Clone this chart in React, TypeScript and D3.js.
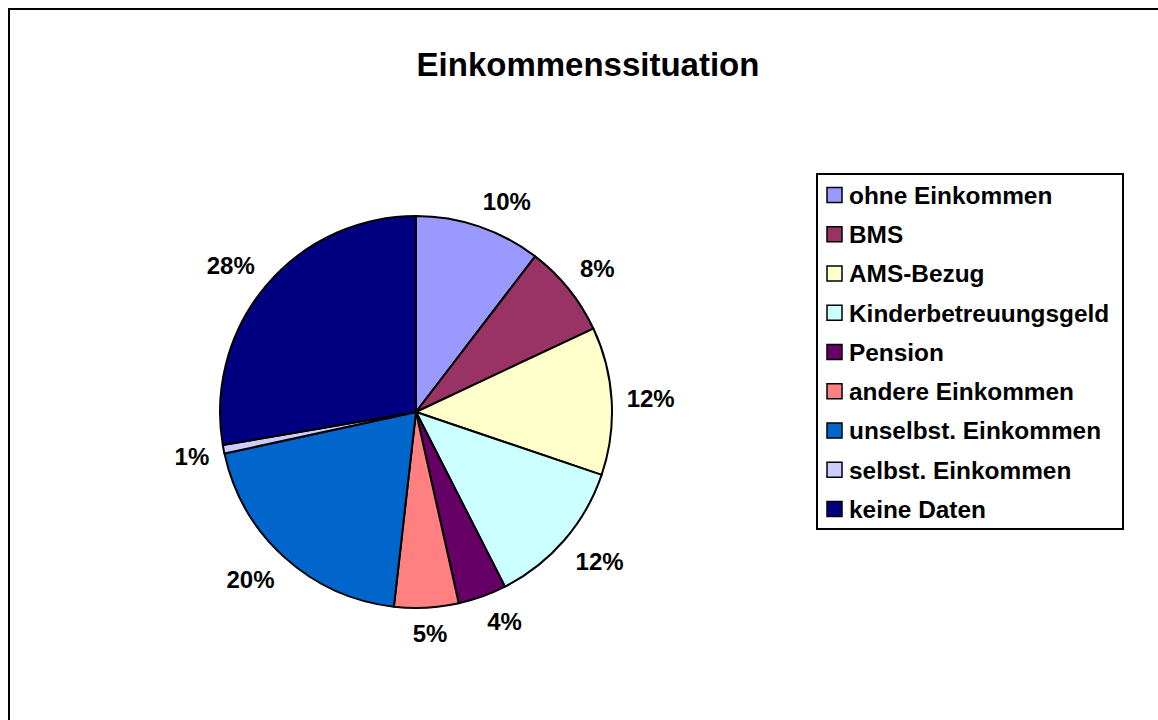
import React from "react";
import * as d3 from "d3";

const categories = [
  "ohne Einkommen",
  "BMS",
  "AMS-Bezug",
  "Kinderbetreuungsgeld",
  "Pension",
  "andere Einkommen",
  "unselbst. Einkommen",
  "selbst. Einkommen",
  "keine Daten",
];
const values = [10.4, 7.6, 12.2, 12.3, 4.0, 5.3, 19.8, 0.7, 27.7];
const colors = [
  "#9999FF",
  "#993366",
  "#FFFFCC",
  "#CCFFFF",
  "#660066",
  "#FF8080",
  "#0066CC",
  "#CCCCFF",
  "#000080",
];
const title = "Einkommenssituation";

const W = 1158;
const H = 720;
const FONT = "'Liberation Sans', Arial, sans-serif";

const clamp = (v: number) => Math.max(-1, Math.min(1, v));

export default function App() {
  const cx = 416;
  const cy = 412;
  const R = 196;
  const total = d3.sum(values);
  const pie = d3
    .pie<number>()
    .sort(null)
    .value((d) => d)
    .startAngle(0)
    .endAngle(2 * Math.PI);
  const arcs = pie(values);
  const arc = d3.arc<d3.PieArcDatum<number>>().innerRadius(0).outerRadius(R);

  const labelFont = 24;
  const legendX = 817;
  const legendY = 174;
  const legendW = 306;
  const legendH = 355;
  const rowStart = 195;
  const rowStep = 39.25;

  return (
    <svg
      width={W}
      height={H}
      style={{ position: "absolute", left: 0, top: 0, display: "block" }}
    >
      <rect x={0} y={0} width={W} height={H} fill="#fff" />
      <rect
        x={9}
        y={9}
        width={W + 100}
        height={H + 100}
        fill="#fff"
        stroke="#000"
        strokeWidth={2}
      />
      <text
        x={588}
        y={76}
        textAnchor="middle"
        fontFamily={FONT}
        fontWeight="bold"
        fontSize={33}
        fill="#000"
      >
        {title}
      </text>
      <g transform={`translate(${cx},${cy})`}>
        {arcs.map((a, i) => (
          <path
            key={i}
            d={arc(a) || ""}
            fill={colors[i]}
            stroke="#000"
            strokeWidth={2}
            strokeLinejoin="round"
          />
        ))}
        {arcs.map((a, i) => {
          const mid = (a.startAngle + a.endAngle) / 2;
          const txt = `${Math.round((a.data / total) * 100)}%`;
          const hw = (txt.length === 3 ? 48 : 34) / 2;
          const hh = 11;
          const s = Math.sin(mid);
          const c = -Math.cos(mid);
          const d = R + 15;
          const x = s * d + clamp(s * 3) * hw;
          const y = c * d + clamp(c * 2) * hh;
          return (
            <text
              key={i}
              x={x}
              y={y}
              dy="0.36em"
              textAnchor="middle"
              fontFamily={FONT}
              fontWeight="bold"
              fontSize={labelFont}
              fill="#000"
            >
              {txt}
            </text>
          );
        })}
      </g>
      <rect
        x={legendX}
        y={legendY}
        width={legendW}
        height={legendH}
        fill="#fff"
        stroke="#000"
        strokeWidth={2}
      />
      {categories.map((c, i) => {
        const y = rowStart + i * rowStep;
        return (
          <g key={c}>
            <rect
              x={827}
              y={y - 7.5}
              width={15}
              height={15}
              fill={colors[i]}
              stroke="#000"
              strokeWidth={1.5}
            />
            <text
              x={849}
              y={y}
              dy="0.36em"
              fontFamily={FONT}
              fontWeight="bold"
              fontSize={24.4}
              fill="#000"
            >
              {c}
            </text>
          </g>
        );
      })}
    </svg>
  );
}
